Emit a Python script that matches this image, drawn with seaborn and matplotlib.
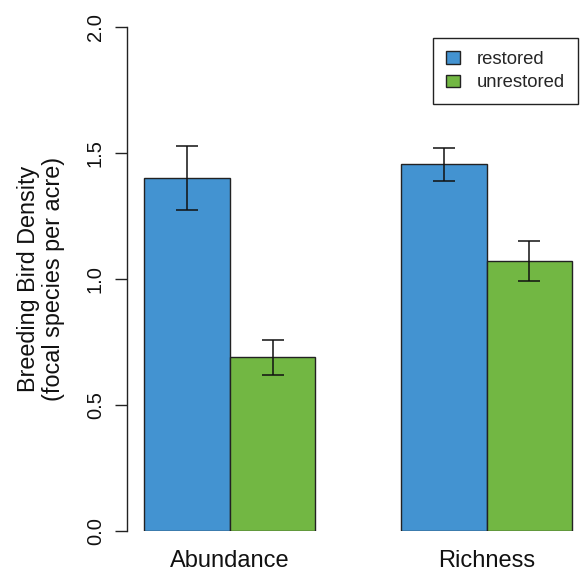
import matplotlib
matplotlib.use("Agg")
from matplotlib import pyplot as plt
import pandas as pd
import seaborn as sns

# values
metrics = ['Abundance', 'Richness']
sites = ['restored', 'unrestored']
restored_mean = [1.40, 1.455]
restored_low = [1.275, 1.39]
restored_high = [1.528, 1.52]
unrestored_mean = [0.69, 1.07]
unrestored_low = [0.619, 0.993]
unrestored_high = [0.758, 1.15]
colors = ['#4393d1', '#72b743']

df = pd.DataFrame({
    'metric': metrics * 2,
    'site': [sites[0]] * 2 + [sites[1]] * 2,
    'density': restored_mean + unrestored_mean,
})
lows = [restored_low, unrestored_low]
highs = [restored_high, unrestored_high]
means = [restored_mean, unrestored_mean]

sns.set_style('white')
plt.rcParams['font.family'] = ['Liberation Sans', 'DejaVu Sans']

fig = plt.figure(figsize=(5.8, 5.73), dpi=100)
ax = fig.add_axes([127 / 580, 42 / 573, 453 / 580, 504 / 573])

sns.barplot(data=df, x='metric', y='density', hue='site', order=metrics,
            hue_order=sites, palette=colors, width=2 / 3, errorbar=None,
            edgecolor='#222222', linewidth=1, saturation=1, ax=ax)

bar_groups = list(ax.containers)
for i, cont in enumerate(bar_groups):
    for j, bar in enumerate(cont.patches):
        xc = bar.get_x() + bar.get_width() / 2
        m = means[i][j]
        ax.errorbar(xc, m, yerr=[[m - lows[i][j]], [highs[i][j] - m]],
                    fmt='none', ecolor='#111111', elinewidth=1.1,
                    capsize=8, capthick=1.1)

ax.set_xlim(-0.4, 1.364)
ax.set_ylim(0, 2)
ax.set_yticks([0, 0.5, 1.0, 1.5, 2.0])
ax.set_yticklabels(['0.0', '0.5', '1.0', '1.5', '2.0'], rotation=90,
                   va='center', fontsize=14.5)
ax.tick_params(axis='y', left=True, length=9, width=1, color='#222222',
               pad=7, labelcolor='#111111')
ax.tick_params(axis='x', bottom=False, length=0, pad=14, labelsize=17,
               labelcolor='#111111')
for s in ['top', 'right', 'bottom']:
    ax.spines[s].set_visible(False)
ax.spines['left'].set_color('#222222')
ax.spines['left'].set_linewidth(1)
ax.set_xlabel('')
ax.set_ylabel('Breeding Bird Density\n(focal species per acre)', fontsize=16.8,
              linespacing=1.1, labelpad=15, color='#111111')

ax.legend(loc='upper right', bbox_to_anchor=(578 / 580, 535 / 573),
          bbox_transform=fig.transFigure, borderaxespad=0, fancybox=False,
          edgecolor='#222222', framealpha=1, fontsize=13.3, handlelength=0.72,
          handleheight=0.65, handletextpad=0.94, labelspacing=0.35,
          borderpad=0.7, title=None)
ax.get_legend().get_frame().set_linewidth(1)

fig.savefig('out.png', dpi=100)
